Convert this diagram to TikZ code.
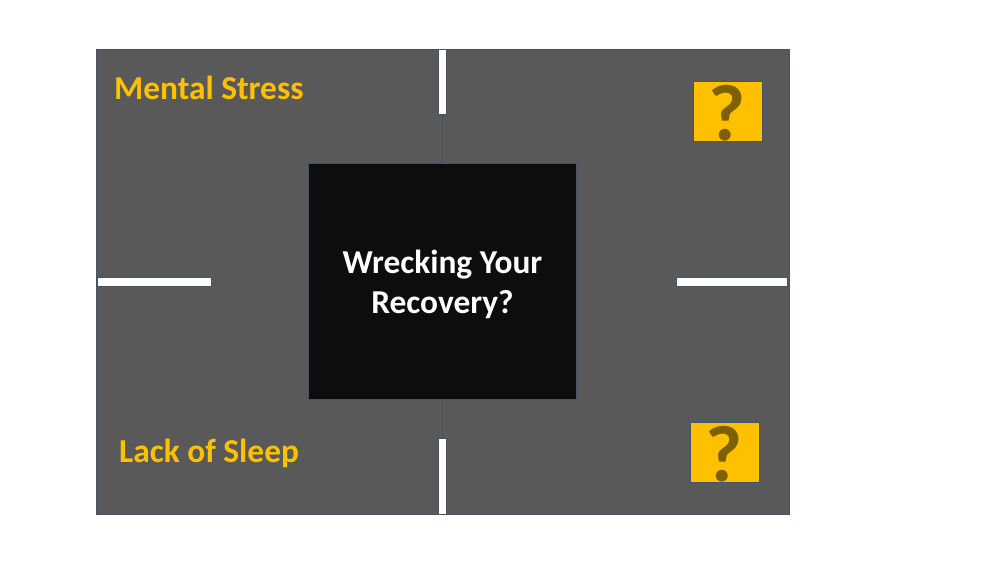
\documentclass[tikz,border=0pt]{standalone}
\usepackage{fontspec}
\setmainfont{Carlito}
\definecolor{bggray}{HTML}{595959}
\definecolor{edgeblue}{HTML}{44546A}
\definecolor{boxblack}{HTML}{0D0D0D}
\definecolor{gold}{HTML}{FFC000}
\definecolor{qdark}{HTML}{7F6000}
\tikzset{
  half/.style={fill=bggray, draw=edgeblue, line width=0.8pt},
  bar/.style={fill=white, draw=edgeblue, line width=0.8pt},
  label/.style={text=gold, font=\bfseries\fontsize{33.4}{38}\selectfont, anchor=west, inner sep=0pt},
  qbox/.style={fill=gold, draw=edgeblue, line width=0.6pt},
  qmark/.style={text=qdark, font=\bfseries\fontsize{80}{80}\selectfont, inner sep=0pt}
}
\begin{document}
\begin{tikzpicture}[x=1pt,y=-1pt]
\useasboundingbox (0,0) rectangle (1000,563);
\fill[white] (0,0) rectangle (1000,563);
% two halves
\draw[half] (96,49) rectangle (442,514);
\draw[half] (442,49) rectangle (789,514);
% white bars
\draw[bar] (438,49) rectangle (446,114);
\draw[bar] (438,438) rectangle (446,514);
\draw[bar] (97,277) rectangle (211,286);
\draw[bar] (676,277) rectangle (787,286);
% centre box
\node[fill=boxblack, draw=edgeblue, line width=0.6pt, minimum width=268pt, minimum height=236pt, inner sep=0pt] (centre) at (442.5,281.5) {};
\node[text=white, align=center, inner sep=0pt, font=\bfseries\fontsize{33.4}{40}\selectfont] (title) at ([yshift=-2.5pt]centre.center) {Wrecking Your\\Recovery?};
% labels
\node[label] (ms) at (114,88) {Mental Stress};
\node[label] (ls) at (119,453) {Lack of Sleep};
% question boxes
\draw[qbox] (693,81) rectangle (762,141);
\node[qmark] (q1) at (727.5,113) {?};
\draw[qbox] (690,422) rectangle (759,482);
\node[qmark] (q2) at (724.5,454) {?};
\end{tikzpicture}
\end{document}
